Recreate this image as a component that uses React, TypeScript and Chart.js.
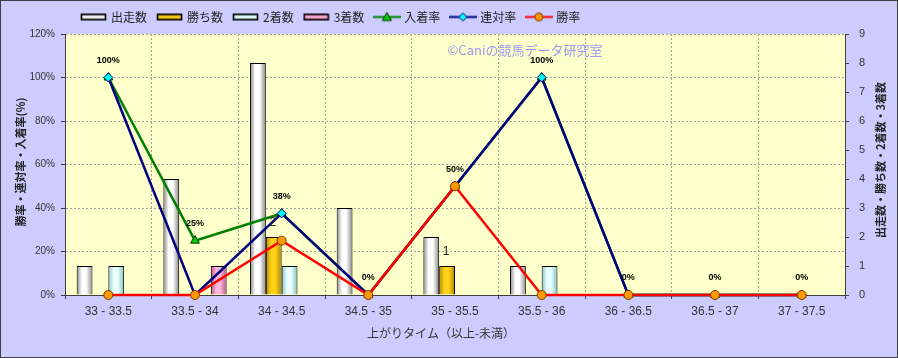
import React, { useEffect, useRef } from 'react';
import { Chart, registerables } from 'chart.js';

Chart.register(...registerables);

// ---- data ----
const categories = ['33 - 33.5', '33.5 - 34', '34 - 34.5', '34.5 - 35', '35 - 35.5', '35.5 - 36', '36 - 36.5', '36.5 - 37', '37 - 37.5'];
const starts = [1, 4, 8, 3, 2, 1, 0, 0, 0];
const wins = [0, 0, 2, 0, 1, 0, 0, 0, 0];
const seconds = [1, 0, 1, 0, 0, 1, 0, 0, 0];
const thirds = [0, 1, 0, 0, 0, 0, 0, 0, 0];
const placeRate = [100, 25, 37.5, 0, 50, 100, 0, 0, 0];
const quinellaRate = [100, 0, 37.5, 0, 50, 100, 0, 0, 0];
const winRate = [0, 0, 25, 0, 50, 0, 0, 0, 0];
const leftTicks = [0, 20, 40, 60, 80, 100, 120];
const rightTicks = [0, 1, 2, 3, 4, 5, 6, 7, 8, 9];
const seriesNames = ['出走数', '勝ち数', '2着数', '3着数', '入着率', '連対率', '勝率'];
const leftTitle = '勝率・連対率・入着率(%)';
const rightTitle = '出走数・勝ち数・2着数・3着数';
const xTitle = '上がりタイム（以上-未満）';
const watermark = '©Caniの競馬データ研究室';

const FONT = '"Noto Sans CJK JP", "Liberation Sans", sans-serif';
const NUM_FONT = '"Liberation Sans", Arial, sans-serif';
const CAT_PCT = 0.73;

const barPalette = [
  { edge: '#868686', mid: '#ffffff', base: '#e8e8e8' },
  { edge: '#b08600', mid: '#ffd21a', base: '#f2c200' },
  { edge: '#82c0c0', mid: '#eaffff', base: '#c8f6f6' },
  { edge: '#b4548a', mid: '#ffb4da', base: '#f092c2' },
];

const lineStyles = [
  { color: '#008000', fill: '#00d000', stroke: '#003000', style: 'triangle', r: 5 },
  { color: '#000080', fill: '#00ffff', stroke: '#000060', style: 'rectRot', r: 4.5 },
  { color: '#ff0000', fill: '#ff9900', stroke: '#7a3a00', style: 'circle', r: 4.5 },
];

function barFill(idx: number) {
  const p = barPalette[idx];
  return (ctx: any) => {
    const chart = ctx.chart;
    const xs = chart.scales && chart.scales.x;
    if (ctx.type !== 'data' || !xs || !chart.chartArea) return p.base;
    const center = xs.getPixelForValue(ctx.dataIndex);
    const catW = xs.width / categories.length;
    const groupW = catW * CAT_PCT;
    const slot = groupW / 4;
    const left = center - groupW / 2 + slot * idx;
    const g = chart.ctx.createLinearGradient(left, 0, left + slot, 0);
    g.addColorStop(0, p.edge);
    g.addColorStop(0.33, p.mid);
    g.addColorStop(0.6, p.mid);
    g.addColorStop(1, p.edge);
    return g;
  };
}

function barIcon(idx: number) {
  const p = barPalette[idx];
  const c = document.createElement('canvas');
  c.width = 27;
  c.height = 9;
  const x = c.getContext('2d')!;
  const g = x.createLinearGradient(0, 1, 0, 8);
  g.addColorStop(0, p.edge);
  g.addColorStop(0.5, p.mid);
  g.addColorStop(1, p.edge);
  x.fillStyle = g;
  x.fillRect(1, 1, 25, 7);
  x.strokeStyle = '#000';
  x.lineWidth = 1.6;
  x.strokeRect(1.5, 1.8, 24, 5.4);
  return c;
}

function drawMarker(x: CanvasRenderingContext2D, s: any, cx: number, cy: number) {
  x.fillStyle = s.fill;
  x.strokeStyle = s.stroke;
  x.lineWidth = 1;
  x.beginPath();
  if (s.style === 'triangle') {
    x.moveTo(cx, cy - 4.5);
    x.lineTo(cx + 4.5, cy + 3.5);
    x.lineTo(cx - 4.5, cy + 3.5);
    x.closePath();
  } else if (s.style === 'rectRot') {
    x.moveTo(cx, cy - 4);
    x.lineTo(cx + 4, cy);
    x.lineTo(cx, cy + 4);
    x.lineTo(cx - 4, cy);
    x.closePath();
  } else {
    x.arc(cx, cy, 4, 0, Math.PI * 2);
  }
  x.fill();
  x.stroke();
}

function lineIcon(idx: number) {
  const s = lineStyles[idx];
  const c = document.createElement('canvas');
  c.width = 28;
  c.height = 11;
  const x = c.getContext('2d')!;
  x.strokeStyle = s.color;
  x.lineWidth = 2;
  x.beginPath();
  x.moveTo(0, 5.5);
  x.lineTo(28, 5.5);
  x.stroke();
  drawMarker(x, s, 14, 5.5);
  return c;
}

const bgPlugin = {
  id: 'bgPlugin',
  beforeDraw(chart: any) {
    const c = chart.ctx;
    const a = chart.chartArea;
    c.save();
    c.fillStyle = '#ccccff';
    c.fillRect(0, 0, chart.width, chart.height);
    c.fillStyle = '#ffffcc';
    c.fillRect(a.left, a.top, a.right - a.left, a.bottom - a.top);
    c.strokeStyle = '#404040';
    c.lineWidth = 1;
    c.strokeRect(0.5, 0.5, chart.width - 1, chart.height - 1);
    c.restore();
  },
  beforeDatasetsDraw(chart: any) {
    const c = chart.ctx;
    c.save();
    c.font = '13px ' + FONT;
    c.fillStyle = '#9a9af0';
    c.textAlign = 'center';
    c.textBaseline = 'middle';
    c.fillText(watermark, 525, 50);
    c.restore();
  },
  afterDraw(chart: any) {
    const c = chart.ctx;
    const vt = (text: string, x: number, y: number) => {
      c.save();
      c.fillStyle = '#222';
      c.textAlign = 'center';
      c.textBaseline = 'middle';
      c.font = 'bold 11px ' + FONT;
      c.translate(x, y);
      c.rotate(-Math.PI / 2);
      c.fillText(text, 0, 0);
      c.restore();
    };
    vt(leftTitle, 21, 162);
    vt(rightTitle, 881, 160);
    c.save();
    c.fillStyle = '#333';
    c.textAlign = 'center';
    c.textBaseline = 'middle';
    c.font = '12px ' + FONT;
    c.fillText(xTitle, 441, 333);
    c.restore();
  },
};

const labelPlugin = {
  id: 'labelPlugin',
  afterDatasetsDraw(chart: any) {
    const c = chart.ctx;
    c.save();
    c.fillStyle = '#000';
    c.textAlign = 'center';
    c.textBaseline = 'middle';
    c.font = 'bold 9px ' + NUM_FONT;
    const placeMeta = chart.getDatasetMeta(4);
    placeMeta.data.forEach((pt: any, i: number) => {
      c.fillText(Math.round(placeRate[i]) + '%', pt.x, pt.y - 17);
    });
    c.font = '12px ' + NUM_FONT;
    c.fillStyle = '#222';
    const winMeta = chart.getDatasetMeta(1);
    winMeta.data.forEach((b: any, i: number) => {
      if (wins[i] > 0) c.fillText(String(wins[i]), b.x - 1, b.y - 14);
    });
    c.restore();
  },
};

const legendPos = {
  id: 'legendPos',
  beforeInit(chart: any) {
    const lg = chart.legend;
    if (!lg) return;
    const orig = lg.fit.bind(lg);
    lg.fit = function () {
      orig();
      this.height = 34;
    };
  },
  afterLayout(chart: any) {
    if (chart.legend) chart.legend.left = 71;
  },
};

export default function App() {
  const ref = useRef<HTMLCanvasElement | null>(null);

  useEffect(() => {
    if (!ref.current) return;
    const icons = [barIcon(0), barIcon(1), barIcon(2), barIcon(3), lineIcon(0), lineIcon(1), lineIcon(2)];
    const barSets = [starts, wins, seconds, thirds].map((d, i) => ({
      type: 'bar' as const,
      label: seriesNames[i],
      data: d,
      yAxisID: 'y1',
      backgroundColor: barFill(i),
      borderColor: '#000',
      borderWidth: 1,
      categoryPercentage: CAT_PCT,
      barPercentage: 1.0,
      order: 10,
    }));
    const lineSets = [placeRate, quinellaRate, winRate].map((d, i) => {
      const s = lineStyles[i];
      return {
        type: 'line' as const,
        label: seriesNames[4 + i],
        data: d,
        yAxisID: 'y',
        borderColor: s.color,
        borderWidth: 2.5,
        pointStyle: s.style,
        pointRadius: s.r,
        pointBackgroundColor: s.fill,
        pointBorderColor: s.stroke,
        pointBorderWidth: 1,
        tension: 0,
        fill: false,
        clip: false as any,
        order: 3 - i,
      };
    });

    const chart = new Chart(ref.current, {
      data: { labels: categories, datasets: [...barSets, ...lineSets] as any },
      options: {
        responsive: false,
        animation: false,
        devicePixelRatio: 1,
        layout: { padding: 0 },
        plugins: {
          tooltip: { enabled: false },
          legend: {
            position: 'top',
            align: 'start',
            labels: {
              usePointStyle: true,
              pointStyleWidth: 23,
              padding: 11,
              color: '#222',
              font: { size: 12, family: FONT },
              generateLabels: () =>
                seriesNames.map((n, i) => ({
                  text: n,
                  pointStyle: icons[i] as any,
                  fillStyle: 'transparent',
                  strokeStyle: 'transparent',
                  lineWidth: 0,
                  hidden: false,
                  datasetIndex: i,
                  fontColor: '#222',
                })),
            },
          },
        },
        scales: {
          x: {
            offset: true,
            grid: {
              offset: true,
              color: '#a0a0a0',
              tickColor: '#404040',
              tickLength: 4,
              tickBorderDash: [],
            },
            border: { display: true, color: '#404040', width: 1, dash: [2, 2] },
            ticks: {
              color: '#333',
              font: { size: 12, family: NUM_FONT },
              padding: 5,
              maxRotation: 0,
              autoSkip: false,
            },
            afterFit: (s: any) => {
              s.height = 63;
            },
          },
          y: {
            position: 'left',
            min: 0,
            max: 120,
            afterBuildTicks: (s: any) => {
              s.ticks = leftTicks.map((v) => ({ value: v }));
            },
            ticks: {
              callback: (v: any) => v + '%',
              color: '#333',
              font: { size: 10, family: NUM_FONT },
              padding: 6,
            },
            grid: {
              color: '#a0a0a0',
              tickColor: '#404040',
              tickLength: 4,
              tickBorderDash: [],
            },
            border: { display: true, color: '#404040', width: 1, dash: [2, 2] },
            afterFit: (s: any) => {
              s.width = 65;
            },
          },
          y1: {
            position: 'right',
            min: 0,
            max: 9,
            afterBuildTicks: (s: any) => {
              s.ticks = rightTicks.map((v) => ({ value: v }));
            },
            ticks: {
              color: '#333',
              font: { size: 11, family: NUM_FONT },
              padding: 10,
            },
            grid: {
              drawOnChartArea: false,
              tickColor: '#404040',
              tickLength: 4,
            },
            border: { display: true, color: '#404040', width: 1 },
            afterFit: (s: any) => {
              s.width = 53;
            },
          },
        },
      } as any,
      plugins: [bgPlugin, labelPlugin, legendPos],
    });
    return () => chart.destroy();
  }, []);

  return (
    <div style={{ position: 'absolute', left: 0, top: 0, width: 898, height: 358 }}>
      <canvas ref={ref} width={898} height={358} style={{ display: 'block' }} />
    </div>
  );
}
